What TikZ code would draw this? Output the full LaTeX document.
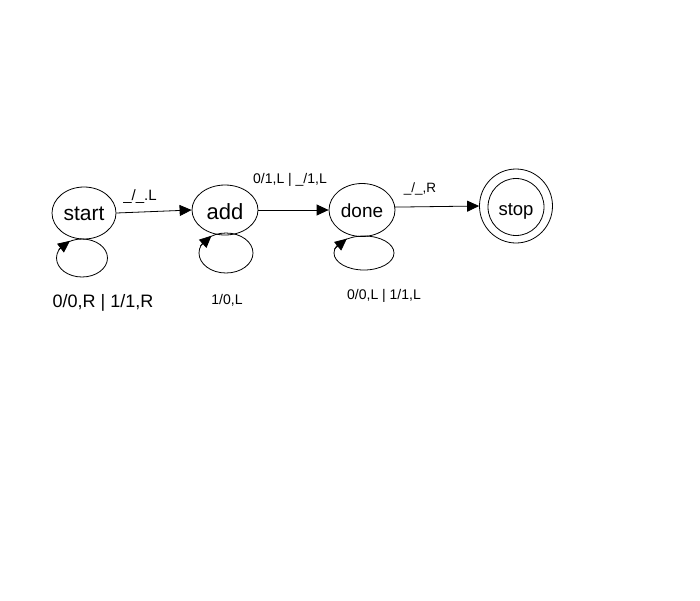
\documentclass[tikz,border=0pt]{standalone}
\usepackage{fontspec}
\setmainfont{Liberation Sans}
\usetikzlibrary{shapes.geometric,arrows.meta}
\begin{document}
\begin{tikzpicture}[x=1pt,y=-1pt,
  state/.style={draw,ellipse,inner sep=0pt,line width=0.8pt,text depth=0pt},
  loopell/.style={draw,ellipse,inner sep=0pt,line width=0.8pt},
  arr/.style={-{Triangle[length=12pt,width=11pt]},line width=0.8pt},
  lbl/.style={inner sep=0pt,font=\fontsize{14}{16}\selectfont}]
\fill[white] (0,0) rectangle (700,600);
\useasboundingbox (0,0) rectangle (700,600);
% states
\node[state,minimum width=64pt,minimum height=52pt,text height=14pt,font=\fontsize{21}{24}\selectfont] (start) at (84,213) {start};
\node[state,minimum width=66pt,minimum height=50pt,text height=18pt,font=\fontsize{22}{24}\selectfont] (add) at (225,210) {add};
\node[state,minimum width=66pt,minimum height=53pt,text height=14pt,font=\fontsize{19}{22}\selectfont] (done) at (362,210) {done};
\node[state,minimum width=73pt,minimum height=74pt] (stopouter) at (516,206) {};
\node[state,minimum width=56pt,minimum height=57pt,text height=17pt,font=\fontsize{18.5}{22}\selectfont] (stop) at (516,207) {stop};
% self loops
\node[loopell,minimum width=51pt,minimum height=38pt] (sloop) at (82,258) {};
\node[loopell,minimum width=54pt,minimum height=40pt] (aloop) at (226,253) {};
\node[loopell,minimum width=60pt,minimum height=34pt] (dloop) at (364,253) {};
\draw[arr] (sloop.160) -- (sloop.125);
\draw[arr] (aloop.165) -- (aloop.130);
\draw[arr] (dloop.172) -- (dloop.140);
% transitions
\draw[arr] (start.east) -- (add.west);
\draw[arr] (add.east) -- (done.west);
\draw[arr] (done.5) -- (stopouter.west);
% labels
\node[lbl,font=\fontsize{15}{17}\selectfont] (l1) at (140,197) {\_/\_.L};
\node[lbl,font=\fontsize{18}{20}\selectfont] (l2) at (103,303) {0/0,R | 1/1,R};
\node[lbl] (l3) at (227,300) {1/0,L};
\node[lbl] (l4) at (290,180) {0/1,L | \_/1,L};
\node[lbl,font=\fontsize{13.5}{16}\selectfont] (l5) at (420,189) {\_/\_,R};
\node[lbl] (l6) at (384,296) {0/0,L | 1/1,L};
\end{tikzpicture}
\end{document}
